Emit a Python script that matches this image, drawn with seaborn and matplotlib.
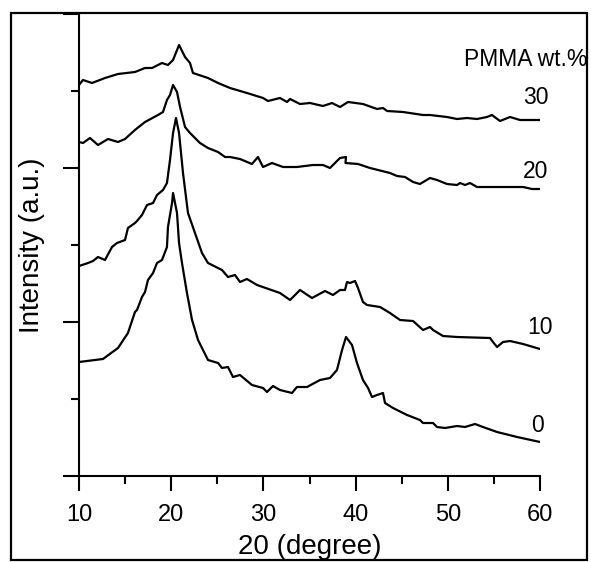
import numpy as np
import pandas as pd
import matplotlib
matplotlib.use("Agg")
import matplotlib.pyplot as plt
from matplotlib.patches import Rectangle
from matplotlib.ticker import MultipleLocator
import seaborn as sns

# ---- data (2theta in degree, intensity in a.u.) ----
tt_0 = [10.0, 12.6, 14.23, 15.31, 16.07, 16.29, 16.83, 17.16, 17.48, 18.03, 18.46, 19.0,
        19.54, 19.65, 20.09, 20.2, 20.63, 20.85, 21.17, 21.71, 22.26, 22.91, 23.99, 25.08,
        25.51, 26.16, 26.7, 27.46, 28.76, 29.96, 30.39, 31.04, 31.8, 33.1, 33.64, 34.73,
        36.14, 37.22, 37.98, 38.53, 38.96, 39.61, 40.15, 40.8, 41.35, 41.78, 42.32, 42.97,
        43.19, 44.06, 45.58, 46.98, 47.31, 48.4, 48.83, 49.7, 51.0, 51.87, 52.95, 53.82,
        55.34, 57.51, 60.0]
int_0 = [114, 117, 128, 143, 164, 166, 179, 184, 196, 203, 213, 216,
         229, 249, 273, 283, 263, 233, 213, 183, 156, 136, 116, 113,
         108, 109, 99, 101, 91, 88, 84, 90, 86, 83, 89, 89,
         96, 98, 106, 126, 139, 131, 113, 96, 88, 79, 81, 83,
         73, 68, 61, 56, 53, 53, 49, 48, 50, 49, 52, 49,
         44, 39, 34]

tt_10 = [10.0, 10.98, 11.52, 12.06, 12.82, 13.58, 14.12, 14.99, 15.31, 16.07, 16.29, 16.83,
         17.38, 18.03, 18.46, 19.11, 19.54, 19.87, 20.2, 20.52, 20.85, 21.28, 21.82, 22.58,
         23.34, 23.99, 25.51, 26.16, 26.92, 27.46, 28.22, 29.31, 31.8, 32.89, 33.97, 35.27,
         36.68, 37.55, 38.31, 38.85, 39.07, 39.39, 39.94, 40.26, 40.8, 41.24, 42.65, 43.73,
         44.82, 46.23, 47.31, 48.07, 48.4, 49.48, 51.0, 54.58, 54.9, 55.34, 55.99, 56.75,
         58.16, 60.0]
int_10 = [210, 213, 215, 219, 216, 229, 233, 236, 248, 253, 255, 261,
          271, 273, 281, 286, 293, 316, 343, 358, 343, 303, 263, 243,
          223, 213, 206, 199, 201, 194, 197, 191, 183, 176, 186, 178,
          185, 181, 186, 186, 194, 193, 195, 188, 174, 171, 169, 163,
          156, 155, 146, 149, 146, 140, 139, 138, 134, 129, 134, 135,
          132, 127]

tt_20 = [10.0, 10.43, 11.19, 12.06, 13.15, 14.23, 14.99, 16.07, 17.16, 18.57, 19.11, 19.54,
         19.87, 20.2, 20.63, 20.96, 21.5, 22.04, 23.12, 23.99, 25.08, 25.84, 26.38, 27.46,
         28.76, 29.41, 29.96, 30.93, 32.13, 33.64, 35.38, 36.46, 37.22, 38.31, 38.96, 38.9,
         40.26, 41.56, 43.73, 44.49, 45.36, 46.23, 46.98, 48.07, 48.83, 49.91, 51.0, 51.32,
         51.87, 52.41, 53.17, 54.58, 56.42, 58.16, 59.13, 60.0]
int_20 = [334, 333, 338, 331, 337, 334, 337, 346, 354, 361, 364, 376,
          381, 391, 384, 369, 349, 343, 333, 328, 324, 319, 319, 317,
          312, 319, 309, 313, 309, 309, 311, 311, 308, 318, 319, 313,
          312, 308, 303, 300, 299, 294, 292, 298, 296, 292, 291, 293,
          291, 293, 289, 289, 289, 289, 287, 287]

tt_30 = [10.0, 10.43, 11.41, 12.82, 14.23, 16.07, 17.16, 17.92, 19.0, 19.65, 20.2, 20.85,
         21.5, 22.04, 22.36, 23.34, 23.99, 25.08, 26.38, 28.22, 29.96, 30.5, 31.8, 32.56,
         32.89, 33.97, 35.05, 36.46, 37.44, 38.31, 39.18, 40.8, 42.32, 42.97, 43.41, 45.14,
         47.31, 48.07, 49.91, 51.0, 52.08, 53.17, 54.25, 54.79, 55.66, 56.75, 57.83, 60.0]
int_30 = [391, 396, 393, 398, 402, 404, 408, 408, 413, 411, 416, 431,
          419, 413, 403, 400, 398, 393, 388, 383, 378, 375, 378, 374,
          377, 372, 373, 370, 373, 369, 374, 372, 367, 368, 365, 364,
          361, 361, 359, 357, 358, 357, 359, 361, 355, 359, 356, 356]

pmma_wt = ["0", "10", "20", "30"]
# label anchor positions (2theta, intensity) for the series labels
label_tt = [59.7, 60.0, 59.5, 59.5]
label_int = [50, 149, 304, 379]

frames = []
for wt, tt, it in zip(pmma_wt, [tt_0, tt_10, tt_20, tt_30], [int_0, int_10, int_20, int_30]):
    frames.append(pd.DataFrame({"two_theta": tt, "intensity": it, "wt": wt}))
df = pd.concat(frames, ignore_index=True)

sns.set_style("ticks")
plt.rcParams["font.family"] = ["Liberation Sans", "DejaVu Sans"]
plt.rcParams["text.color"] = "black"
plt.rcParams["axes.labelcolor"] = "black"
plt.rcParams["xtick.color"] = "black"
plt.rcParams["ytick.color"] = "black"
plt.rcParams["axes.edgecolor"] = "black"

fig = plt.figure(figsize=(5.91, 5.62), dpi=100)
ax = fig.add_axes([79 / 591, 86 / 562, 461 / 591, 462 / 562])

sns.lineplot(data=df, x="two_theta", y="intensity", hue="wt",
             palette={w: "black" for w in pmma_wt}, estimator=None, sort=False,
             legend=False, linewidth=1.6, ax=ax)
for ln in ax.lines:
    ln.set_solid_joinstyle("round")
    ln.set_solid_capstyle("round")

ax.set_xlim(10, 60)
ax.set_ylim(0, 462)
ax.xaxis.set_major_locator(MultipleLocator(10))
ax.xaxis.set_minor_locator(MultipleLocator(5))
ax.yaxis.set_major_locator(MultipleLocator(154))
ax.yaxis.set_minor_locator(MultipleLocator(77))
ax.set_yticklabels([])

for s in ["top", "right"]:
    ax.spines[s].set_visible(False)
for s in ["left", "bottom"]:
    ax.spines[s].set_linewidth(1.5)
    ax.spines[s].set_color("black")

ax.tick_params(axis="x", which="major", length=11, width=1.5, direction="out",
               labelsize=17, pad=9.5, colors="black")
ax.tick_params(axis="x", which="minor", length=5.5, width=1.5, direction="out")
ax.tick_params(axis="y", which="major", length=11.5, width=1.5, direction="out")
ax.tick_params(axis="y", which="minor", length=5.5, width=1.5, direction="out")

ax.set_xlabel("20 (degree)", fontsize=20)
ax.set_ylabel("Intensity (a.u.)", fontsize=20)
ax.xaxis.set_label_coords(0.5, -0.125)
ax.yaxis.set_label_coords(-0.073, 0.5)

for lab, xt, yt in zip(pmma_wt, label_tt, label_int):
    ax.text(xt, yt, lab, fontsize=16.5, ha="center", va="center", clip_on=False)
ax.text(58.5, 416, "PMMA wt.%", fontsize=16.5, ha="center", va="center", clip_on=False)

fig.patches.append(Rectangle((11 / 591, 2 / 562), 576 / 591, 547 / 562,
                             transform=fig.transFigure, fill=False,
                             edgecolor="black", linewidth=1.6))

fig.savefig("out.png", dpi=100)
